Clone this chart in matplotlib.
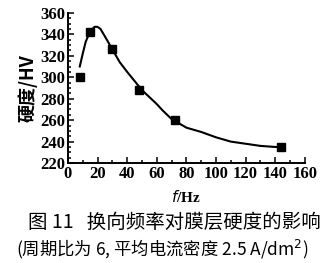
import matplotlib
matplotlib.use("Agg")
import matplotlib.pyplot as plt
from matplotlib.ticker import MultipleLocator

plt.rcParams['font.family'] = ['Liberation Serif', 'Noto Sans CJK SC', 'DejaVu Sans']

# measured points
f_pts = [8, 15, 30, 48, 72, 144]
hv_pts = [300, 342, 326, 288, 260, 235]

# fitted curve
f_curve = [8, 10, 12, 15, 18, 20, 22, 25, 30, 35, 40, 50, 60, 64, 70, 80, 90,
           100, 110, 120, 130, 140, 145]
hv_curve = [310, 322, 333, 343, 347, 347, 345, 338, 326, 314, 305, 288, 275,
            269, 261, 253, 249, 244, 240, 238, 236, 235, 235]

fig = plt.figure(figsize=(3.25, 2.63), dpi=100)
ax = fig.add_axes([0.209, 0.380, 0.729, 0.571])

ax.plot(f_curve, hv_curve, color='black', lw=1.5)
ax.plot(f_pts, hv_pts, 's', color='black', ms=5.5)

ax.set_xlim(0, 160)
ax.set_ylim(220, 360)
ax.xaxis.set_major_locator(MultipleLocator(20))
ax.xaxis.set_minor_locator(MultipleLocator(10))
ax.yaxis.set_major_locator(MultipleLocator(20))
ax.yaxis.set_minor_locator(MultipleLocator(5))
ax.tick_params(which='both', direction='in', width=1.1)
ax.tick_params(which='major', length=4, labelsize=12, pad=2)
ax.tick_params(which='minor', length=2)
for lab in ax.get_xticklabels() + ax.get_yticklabels():
    lab.set_fontweight('bold')

for s in ['top', 'right']:
    ax.spines[s].set_visible(False)
for s in ['left', 'bottom']:
    ax.spines[s].set_linewidth(1.4)

ax.set_ylabel('硬度/HV', family=['Noto Sans CJK SC'], fontsize=13,
              fontweight='bold', labelpad=2)
ax.set_xlabel(r'$\mathbf{\mathit{f}}$/Hz', fontsize=11, fontweight='bold',
              labelpad=5)

fig.text(0.535, 0.155, '图 11   换向频率对膜层硬度的影响', ha='center', va='center',
         family=['Noto Sans CJK SC'], fontsize=14)
fig.text(0.50, 0.050, '(周期比为 6, 平均电流密度 2.5 A/dm$^2$)', ha='center',
         va='center', family=['Noto Sans CJK SC', 'DejaVu Sans'], fontsize=12.5)

fig.savefig('out.png', dpi=100)
